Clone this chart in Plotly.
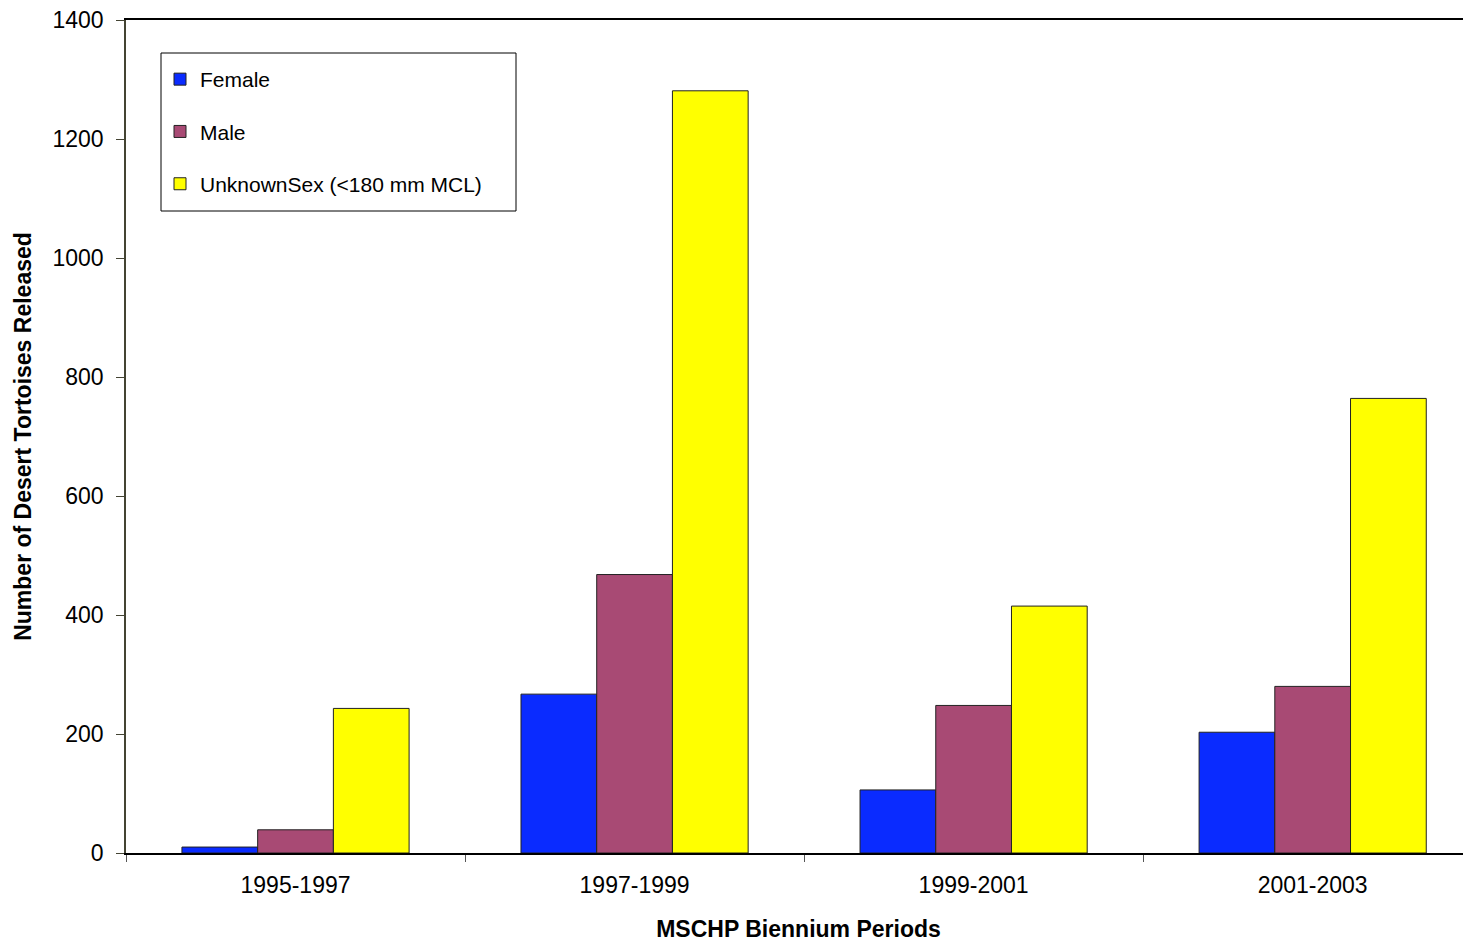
import plotly.graph_objects as go

categories = ["1995-1997", "1997-1999", "1999-2001", "2001-2003"]
female = [10, 267, 106, 203]
male = [39, 468, 248, 280]
unknown = [243, 1281, 415, 764]
series_names = ["Female", "Male", "UnknownSex (<180 mm MCL)"]
colors = ["#0A2BFF", "#A84A74", "#FFFF00"]

FONT = "Liberation Sans, Arial, sans-serif"

# page body has an 8px margin: figure is placed at (8, 8)
W, H = 1463, 935
L, T = 118, 12
PLOT_W = W - L
PLOT_BOTTOM = 845
PLOT_H = PLOT_BOTTOM - T

fig = go.Figure()
for i, (name, vals, col) in enumerate(zip(series_names, [female, male, unknown], colors)):
    fig.add_trace(go.Bar(
        x=categories, y=vals, name=name, legendgroup=f"g{i}",
        marker=dict(color=col, line=dict(color="#222222", width=1)),
    ))

fig.update_layout(
    width=W, height=H,
    margin=dict(l=L, r=0, t=T, b=H - PLOT_BOTTOM, autoexpand=False),
    paper_bgcolor="white", plot_bgcolor="white",
    barmode="group", bargap=0.33, bargroupgap=0,
    font=dict(family=FONT, size=23, color="black"),
    showlegend=True,
    legend=dict(
        x=(160 - 126) / PLOT_W, y=(PLOT_BOTTOM - 51) / PLOT_H,
        xanchor="left", yanchor="top",
        traceorder="grouped", tracegroupgap=22,
        font=dict(family=FONT, size=21, color="black"),
        bgcolor="rgba(0,0,0,0)", borderwidth=0,
        itemwidth=30,
    ),
    xaxis=dict(
        range=[-0.5, 3.467], type="category", automargin=False,
        showline=True, linecolor="black", linewidth=1.5, mirror=True,
        ticks="outside", tickson="boundaries", ticklen=7, tickcolor="#555555",
        showgrid=False, ticklabelstandoff=11,
        title=dict(text="<b>MSCHP Biennium Periods</b>", standoff=24,
                   font=dict(family=FONT, size=23)),
        tickfont=dict(family=FONT, size=23),
    ),
    yaxis=dict(
        range=[0, 1400], dtick=200, automargin=False,
        showline=True, linecolor="#444433", linewidth=1.5,
        ticks="outside", ticklen=8, tickcolor="#444433",
        showgrid=False, zeroline=False, ticklabelstandoff=8,
        ticklabeloverflow="allow",
        title=dict(text="<b>Number of Desert Tortoises Released</b>", standoff=14,
                   font=dict(family=FONT, size=23)),
        tickfont=dict(family=FONT, size=23),
    ),
)

# legend frame (reference pixel box 161..516 x 53..211 in page coords)
fig.add_shape(type="rect", xref="paper", yref="paper",
              x0=(161 - 8 - L) / PLOT_W, x1=(516 - 8 - L) / PLOT_W,
              y0=(PLOT_BOTTOM - (211 - 8)) / PLOT_H, y1=(PLOT_BOTTOM - (53 - 8)) / PLOT_H,
              line=dict(color="black", width=1), fillcolor="rgba(0,0,0,0)")

fig.write_html("out.html")
